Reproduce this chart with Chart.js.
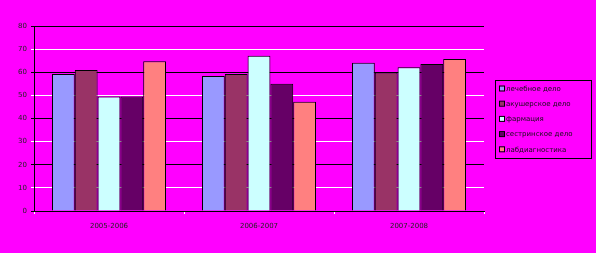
<!DOCTYPE html>
<html><head><meta charset="utf-8">
<script src="https://cdn.jsdelivr.net/npm/chart.js@4/dist/chart.umd.min.js"></script>
<style>html,body{margin:0;padding:0;background:#FF00FF;}#c{display:block;}</style>
</head><body>
<div style="width:596px;height:253px;position:relative"><canvas id="c" width="596" height="253"></canvas></div>
<script>
const categories = ["2005-2006", "2006-2007", "2007-2008"];
const seriesNames = ["лечебное дело", "акушерское дело", "фармация", "сестринское дело", "лабдиагностика"];
const lechebnoe = [59.2, 58.4, 64.1];
const akusherskoe = [61.0, 59.2, 59.9];
const farmacia = [49.5, 67.1, 62.2];
const sestrinskoe = [49.5, 55.0, 63.6];
const labdiag = [64.8, 47.2, 65.7];
const yTicks = [0, 10, 20, 30, 40, 50, 60, 70, 80];
const colors = ["#9999FF", "#993366", "#CCFFFF", "#660066", "#FF8080"];
const allSeries = [lechebnoe, akusherskoe, farmacia, sestrinskoe, labdiag];

const legendPlugin = {
  id: 'customLegend',
  afterDraw(chart) {
    const ctx = chart.ctx;
    ctx.save();
    ctx.strokeStyle = '#000';
    ctx.lineWidth = 1;
    ctx.strokeRect(495.5, 80.5, 96, 78);
    ctx.font = '7px "DejaVu Sans", sans-serif';
    ctx.textBaseline = 'middle';
    chart.data.datasets.forEach((ds, i) => {
      const y = 89 + i * 15.2;
      ctx.fillStyle = ds.backgroundColor;
      ctx.fillRect(500, y - 2.5, 4, 4);
      ctx.strokeStyle = '#000';
      ctx.strokeRect(499.5, y - 3, 5, 5);
      ctx.fillStyle = '#111';
      ctx.fillText(ds.label, 506, y);
    });
    ctx.restore();
  }
};

new Chart(document.getElementById('c'), {
  type: 'bar',
  data: {
    labels: categories,
    datasets: allSeries.map((d, i) => ({
      label: seriesNames[i],
      data: d,
      backgroundColor: colors[i],
      borderColor: '#000',
      borderWidth: 1,
      borderSkipped: 'bottom',
      barPercentage: 1.0,
      categoryPercentage: 0.76
    }))
  },
  options: {
    responsive: false,
    animation: false,
    devicePixelRatio: 1,
    layout: { padding: { left: 0, right: 112, top: 26, bottom: 0 } },
    plugins: { legend: { display: false }, tooltip: { enabled: false } },
    scales: {
      x: {
        grid: { display: true, offset: true, drawOnChartArea: false, color: '#fff', tickLength: 3 },
        border: { color: '#000', width: 1 },
        ticks: { color: '#222', font: { size: 7, family: '"DejaVu Sans", sans-serif' }, padding: 8, maxRotation: 0 },
        afterFit(s) { s.height = 42; }
      },
      y: {
        min: 0, max: 80,
        afterBuildTicks(s) { s.ticks = yTicks.map(v => ({ value: v })); },
        grid: {
          color: (c) => (c.tick && c.tick.value % 20 === 0) ? '#000' : '#fff',
          lineWidth: 1, tickLength: 3
        },
        border: { color: '#000', width: 1 },
        ticks: { color: '#222', font: { size: 7, family: '"DejaVu Sans", sans-serif' }, padding: 4 },
        afterFit(s) { s.width = 34; }
      }
    }
  },
  plugins: [legendPlugin]
});
</script>
</body></html>
